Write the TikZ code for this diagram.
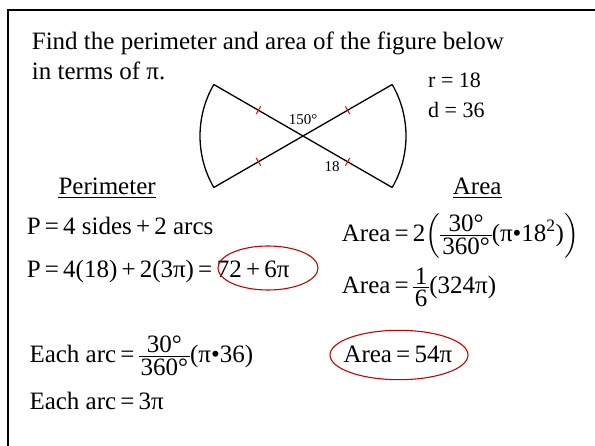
\documentclass[tikz,border=0pt]{standalone}
\usepackage{amsmath}
\usepackage{fontspec}
\setmainfont{Liberation Serif}
\usetikzlibrary{calc}

\newcommand{\myeq}{\,=\,}
\newcommand{\myplus}{\,+\,}
% compact stacked fraction in text font
\newcommand{\myfrac}[2]{\ensuremath{\vcenter{\hbox{\renewcommand{\arraystretch}{0}\setlength{\arrayrulewidth}{0.9pt}%
  \begin{tabular}{@{\kern2pt}c@{\kern2pt}}\rule[-3pt]{0pt}{19pt}#1\\\hline\rule[-1pt]{0pt}{20pt}#2\end{tabular}}}}}

\begin{document}
\begin{tikzpicture}[x=1pt,y=-1pt,
  txt/.style={anchor=base west,inner sep=0pt,font=\fontsize{25}{30}\selectfont},
  smalltxt/.style={anchor=base west,inner sep=0pt,font=\fontsize{22}{26}\selectfont},
  figlabel/.style={anchor=base,inner sep=0pt,font=\fontsize{15}{18}\selectfont},
  hashmark/.style={red,line width=1pt},
  ring/.style={red!80!black,line width=1.1pt}]
\useasboundingbox (0,0) rectangle (595,446);
% frame
\draw[line width=2.5pt] (8,446) -- (8,10) -- (595,10);

% question
\node[txt] (find) at (31.7,49.3) {Find the perimeter and area of the figure below};
\node[txt] (terms) at (31.7,80) {in terms of π.};

% bow tie figure
\coordinate (c) at (303,136);
\coordinate (ul) at ($(c)+(210:103)$);
\coordinate (ll) at ($(c)+(150:103)$);
\coordinate (ur) at ($(c)+(330:103)$);
\coordinate (lr) at ($(c)+(30:103)$);
\draw[line width=1.3pt] (ul) -- (lr);
\draw[line width=1.3pt] (ll) -- (ur);
\draw[line width=1.3pt] (ul) arc[start angle=210,end angle=150,radius=103];
\draw[line width=1.3pt] (ur) arc[start angle=-30,end angle=30,radius=103];
\foreach \e in {ul,ur,ll,lr}
  \draw[hashmark] ($(c)!0.5!(\e)!4.5pt!90:(\e)$) -- ($(c)!0.5!(\e)!4.5pt!-90:(\e)$);
\node[figlabel] (ang) at (303,124.3) {150°};
\node[figlabel] (side) at (332,171.7) {18};

\node[smalltxt] (rad) at (428,87.3) {r = 18};
\node[smalltxt] (dia) at (428,117.3) {d = 36};

% perimeter
\node[txt] (perim) at (58.3,195) {Perimeter};
\draw[line width=1.2pt] ($(perim.base west)+(0,2.5)$) -- ($(perim.base east)+(0,2.5)$);
\node[txt] (p1) at (26.7,235) {P\myeq 4 sides\myplus 2 arcs};
\node[txt] (p2) at (26.7,277.3) {P\myeq 4(18)\myplus 2(3π)\myeq};
\node[txt] (pans) at (p2.base east) {72\myplus 6π};
\draw[ring] (268,268) ellipse[x radius=50,y radius=22];

\node[txt] (arc1) at (29.3,362.7) {Each arc\myeq\myfrac{30°}{360°}(π•36)};
\node[txt] (arc2) at (29.3,409.3) {Each arc\myeq 3π};

% area
\node[txt] (area) at (452.7,195) {Area};
\draw[line width=1.2pt] ($(area.base west)+(0,2.5)$) -- ($(area.base east)+(0,2.5)$);
\node[txt] (a1) at (341.7,241.7) {Area\myeq 2$\left(\myfrac{30°}{360°}\text{(π•18}^{\text{2}}\text{)}\right)$};
\node[txt] (a2) at (341.7,294) {Area\myeq\myfrac{1}{6}(324π)};
\node[txt] (aans) at (343.3,362.7) {Area\myeq 54π};
\draw[ring] (399,355) ellipse[x radius=69,y radius=24.7];
\end{tikzpicture}
\end{document}
